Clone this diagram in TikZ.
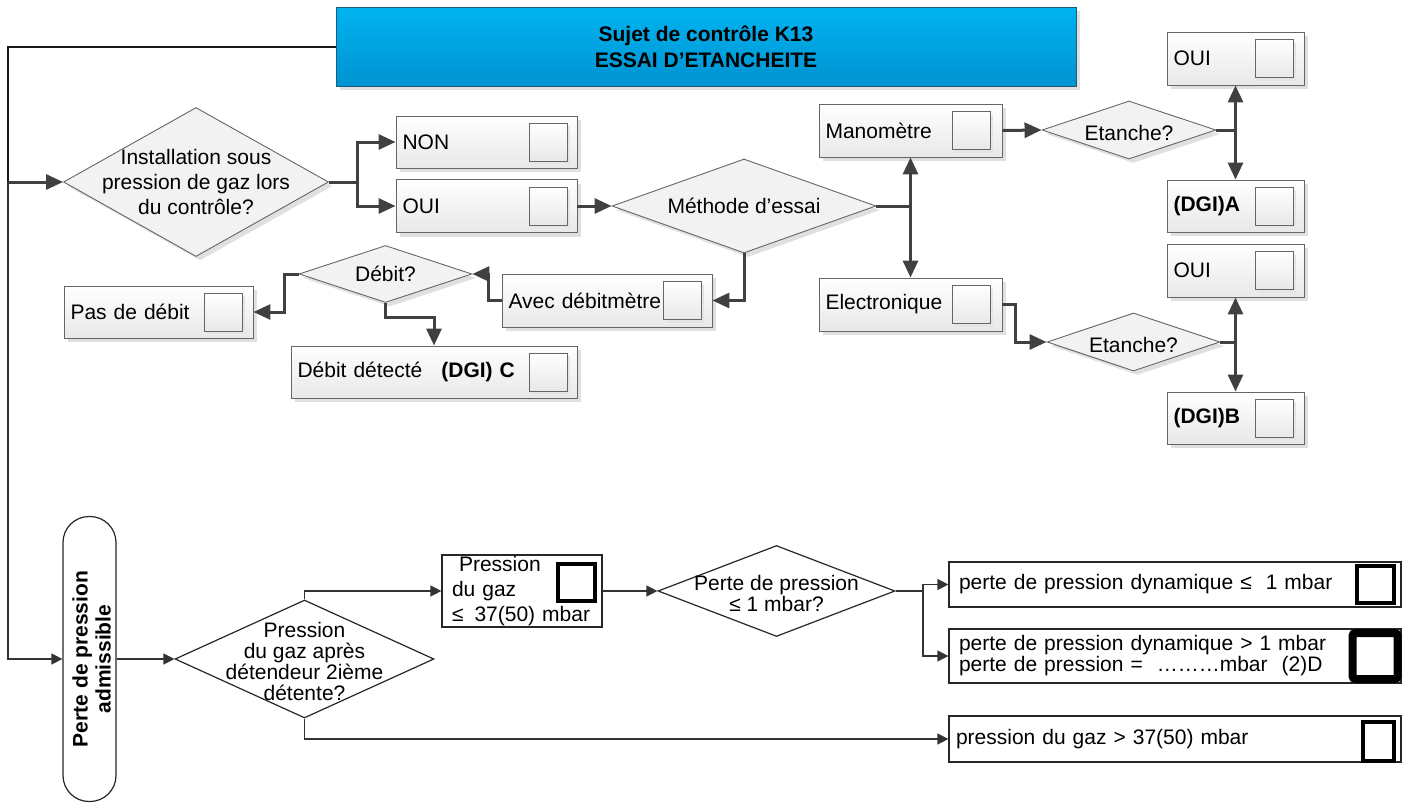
\documentclass[tikz,border=0pt]{standalone}
\usepackage{fontspec}
\setmainfont{Liberation Sans}
\usetikzlibrary{shapes.geometric,arrows.meta,shadows}

\definecolor{titleTop}{HTML}{00B3F0}
\definecolor{titleBot}{HTML}{0093D1}
\definecolor{titleLine}{HTML}{1E5C7A}
\definecolor{flowGray}{HTML}{404040}
\definecolor{edgeGray}{HTML}{666666}

\tikzset{
  txt/.style={font=\fontsize{21}{25}\selectfont, inner sep=0pt},
  softshadow/.style={drop shadow={shadow xshift=4pt, shadow yshift=-4pt, fill=black!12, opacity=1}},
  titlebox/.style={draw=titleLine, line width=1pt, top color=titleTop, bottom color=titleBot,
    softshadow, font=\bfseries\fontsize{21}{26}\selectfont, align=center},
  optbox/.style={draw=edgeGray, line width=0.9pt, top color=white, bottom color=black!9,
    softshadow, font=\fontsize{21}{25}\selectfont, align=left, inner xsep=6.5pt, inner ysep=0pt},
  tick/.style={draw=edgeGray, line width=0.9pt, top color=white, bottom color=black!9,
    drop shadow={shadow xshift=3pt, shadow yshift=-3pt, fill=black!10, opacity=1},
    minimum width=38pt, minimum height=38pt, inner sep=0pt},
  decision/.style={diamond, draw=edgeGray, line width=0.9pt, fill=black!5, softshadow, inner sep=0pt},
  flow/.style={draw=flowGray, line width=3pt, -{Triangle[length=17pt,width=15pt]}},
  % bottom part: plain black drawing
  resbox/.style={draw=black!85, line width=1.2pt, fill=white, font=\fontsize{21}{21}\selectfont,
    align=left, inner xsep=10pt, inner ysep=0pt},
  resdecision/.style={diamond, draw=black!85, line width=1.2pt, fill=white, inner sep=0pt},
  restick/.style={draw=black, fill=white, inner sep=0pt},
  thinflow/.style={draw=black!80, line width=1.3pt, -{Triangle[length=11pt,width=11pt]}},
}

\begin{document}
\begin{tikzpicture}[x=1pt,y=-1pt]
\useasboundingbox (0,0) rectangle (1411,803);

%Title
\node[titlebox, minimum width=740pt, minimum height=79pt] (title) at (706,46.5) {Sujet de contrôle K13\\ESSAI D’ETANCHEITE};

%First question
\node[decision, minimum width=265pt, minimum height=149pt] (inst) at (196,182) {};
\node[txt, align=center] (inst-t) at (inst.center) {Installation sous\\pression de gaz lors\\du contrôle?};

\node[optbox, text width=168pt, minimum height=52pt] (non) at (486.5,142) {NON};
\node[tick] (non-c) at ([xshift=-29.5pt]non.east) {};
\node[optbox, text width=168pt, minimum height=53pt] (oui) at (486.5,206) {OUI};
\node[tick] (oui-c) at ([xshift=-29.5pt]oui.east) {};

%Test method
\node[decision, minimum width=264pt, minimum height=94pt] (meth) at (744,206) {};
\node[txt] (meth-t) at (meth.center) {Méthode d’essai};

\node[optbox, text width=170pt, minimum height=53pt] (mano) at (910.5,130.5) {Manomètre};
\node[tick] (mano-c) at ([xshift=-31pt]mano.east) {};
\node[optbox, text width=170pt, minimum height=53pt] (elec) at (910.5,304.5) {Electronique};
\node[tick] (elec-c) at ([xshift=-31pt]elec.east) {};
\node[optbox, text width=197pt, minimum height=53pt] (avec) at (607,300.5) {Avec débitmètre};
\node[tick] (avec-c) at ([xshift=-30pt]avec.east) {};

%Flow meter branch
\node[decision, minimum width=173pt, minimum height=57pt] (debit) at (385.5,274) {};
\node[txt] (debit-t) at (debit.center) {Débit?};
\node[optbox, text width=176pt, minimum height=52pt] (pas) at (158.5,312) {Pas de débit};
\node[tick] (pas-c) at ([xshift=-30.5pt]pas.east) {};
\node[optbox, text width=273pt, minimum height=52pt] (det) at (434,372) {Débit détecté\hspace{19pt}\textbf{(DGI) C}};
\node[tick] (det-c) at ([xshift=-29.5pt]det.east) {};

%Tightness questions
\node[decision, minimum width=174pt, minimum height=58pt] (etan1) at (1129,130) {};
\node[txt] (etan1-t) at ([yshift=-3pt]etan1.center) {Etanche?};
\node[decision, minimum width=173pt, minimum height=58pt] (etan2) at (1133.5,342) {};
\node[txt] (etan2-t) at ([yshift=-3pt]etan2.center) {Etanche?};

\node[optbox, text width=124pt, minimum height=53pt] (ouiA) at (1235.5,58.5) {OUI};
\node[tick] (ouiA-c) at ([xshift=-30.5pt]ouiA.east) {};
\node[optbox, text width=124pt, minimum height=52pt] (dgiA) at (1235.5,206) {\textbf{(DGI)A}};
\node[tick] (dgiA-c) at ([xshift=-30.5pt]dgiA.east) {};
\node[optbox, text width=124pt, minimum height=53pt] (ouiB) at (1235.5,270.5) {OUI};
\node[tick] (ouiB-c) at ([xshift=-30.5pt]ouiB.east) {};
\node[optbox, text width=124pt, minimum height=52pt] (dgiB) at (1235.5,418) {\textbf{(DGI)B}};
\node[tick] (dgiB-c) at ([xshift=-30.5pt]dgiB.east) {};

%Connectors, top part
\coordinate (bend0) at (8,46.5);
\coordinate (split0) at (8,182);
\draw[draw=black!90, line width=2pt] (title.west) -- (bend0) -- (split0);
\draw[flow] (split0) -- (inst.west);
\coordinate (j1) at (357,182);
\draw[flow] (inst.east) -- (j1) |- (non.west);
\draw[flow] (j1) |- (oui.west);
\draw[flow] (oui.east) -- (meth.west);
\coordinate (j2) at (mano.south |- meth.east);
\draw[flow] (meth.east) -- (j2) -- (mano.south);
\draw[flow] (j2) -- (elec.north);
\draw[flow] (meth.south) |- (avec.east);
\draw[flow] (avec.west) -- ++(-13,0) |- (debit.east);
\draw[flow] (debit.west) -- ++(-14,0) |- (pas.east);
\draw[flow] (debit.south) -- ++(0,15) -| (det.north);
\draw[flow] (mano.east) -- (etan1.west);
\coordinate (j3) at (ouiA.south |- etan1.east);
\draw[flow] (etan1.east) -- (j3) -- (ouiA.south);
\draw[flow] (j3) -- (dgiA.north);
\draw[flow] (elec.east) -- ++(13,0) |- (etan2.west);
\coordinate (j4) at (ouiB.south |- etan2.east);
\draw[flow] (etan2.east) -- (j4) -- (ouiB.south);
\draw[flow] (j4) -- (dgiB.north);

%Admissible pressure loss
\node[draw=black!85, line width=1.2pt, fill=white, rounded corners=26pt, minimum width=53pt, minimum height=285pt] (pill) at (89.5,659) {};
\node[rotate=90, font=\bfseries\fontsize{21}{23}\selectfont, align=center, inner sep=0pt] (pill-t) at ([xshift=2pt]pill.center) {Perte de pression\\admissible};

\node[resdecision, minimum width=259pt, minimum height=118pt] (gaz) at (304.5,659) {};
\node[txt, font=\fontsize{21}{21}\selectfont, align=center] (gaz-t) at ([yshift=-2pt]gaz.center) {Pression\\du gaz après\\détendeur 2ième\\détente?};

\node[resbox, font=\fontsize{21}{25}\selectfont, inner xsep=6pt, text width=148pt, minimum height=72pt] (press) at (522,591) {\hspace*{11pt}Pression\\\hspace*{4pt}du gaz\\\hspace*{4pt}≤\hspace{11pt}37(50) mbar};
\node[restick, line width=4pt, minimum width=37pt, minimum height=37pt] (press-c) at (576.5,582.5) {};

\node[resdecision, minimum width=237pt, minimum height=91pt] (loss) at (776.5,591) {};
\node[txt, font=\fontsize{21}{21}\selectfont, align=center] (loss-t) at ([yshift=-2pt]loss.center) {Perte de pression\\≤ 1 mbar?};

\node[resbox, text width=432pt, minimum height=45pt] (r1) at (1175,584.5) {perte de pression dynamique ≤~~1 mbar};
\node[restick, line width=4pt, minimum width=37pt, minimum height=37pt] (r1-c) at (1375.5,584.5) {};
\node[resbox, text width=432pt, minimum height=54pt] (r2) at (1175,656) {perte de pression dynamique > 1 mbar\\perte de pression =~~………mbar~~(2)D};
\node[restick, line width=8pt, rounded corners=3pt, minimum width=45pt, minimum height=46pt] (r2-c) at (1375,656) {};
\node[resbox, inner xsep=7pt, text width=438pt, minimum height=46pt] (r3) at (1175,739) {pression du gaz > 37(50) mbar};
\node[restick, line width=4pt, minimum width=31pt, minimum height=39pt] (r3-c) at (1378.5,741.5) {};

%Connectors, bottom part
\draw[thinflow] (split0) |- (pill.west);
\draw[thinflow] (pill.east) -- (gaz.west);
\draw[thinflow] (gaz.north) |- (press.west);
\draw[thinflow] (press.east) -- (loss.west);
\coordinate (j5) at (923,591);
\draw[thinflow] (loss.east) -- (j5) |- (r1.west);
\draw[thinflow] (j5) |- (r2.west);
\draw[thinflow] (gaz.south) |- (r3.west);

\end{tikzpicture}
\end{document}
